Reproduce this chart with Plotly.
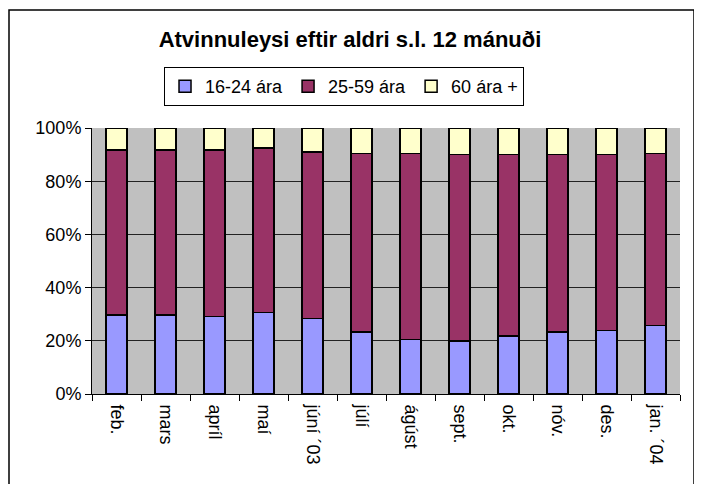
import plotly.graph_objects as go

months = ["feb.", "mars", "apríl", "maí", "júní ´03", "júlí", "ágúst",
          "sept.", "okt.", "nóv.", "des.", "jan. ´04"]
age_16_24 = [29.7, 29.7, 29.1, 30.6, 28.4, 23.3, 20.4, 19.9, 21.8, 23.3, 23.8, 25.8]
age_25_59 = [62.0, 62.0, 62.6, 61.9, 62.6, 67.2, 70.1, 70.1, 68.2, 66.7, 66.2, 64.7]
age_60_plus = [8.3, 8.3, 8.3, 7.5, 9.0, 9.5, 9.5, 10.0, 10.0, 10.0, 10.0, 9.5]
y_ticks = [0, 20, 40, 60, 80, 100]

series = [
    ("16-24 ára", age_16_24, "#9999FF"),
    ("25-59 ára", age_25_59, "#993366"),
    ("60 ára +", age_60_plus, "#FFFFCC"),
]

fig = go.Figure()
for name, vals, color in series:
    fig.add_trace(go.Bar(
        x=months,
        y=vals,
        name=name,
        marker=dict(color=color, line=dict(color="black", width=1.5)),
    ))

font = "Liberation Sans, Arial, sans-serif"

# page body adds an 8px offset, so margins are shifted to compensate
fig.update_layout(
    width=702,
    height=484,
    barmode="stack",
    bargap=0.57,
    paper_bgcolor="white",
    plot_bgcolor="#C0C0C0",
    font=dict(family=font, size=18, color="black"),
    margin=dict(l=84, r=30, t=120, b=98),
    title=dict(
        text="<b>Atvinnuleysi eftir aldri s.l. 12 mánuði</b>",
        x=342 / 702, xanchor="center",
        y=1 - 31 / 484, yanchor="middle",
        font=dict(size=22, family=font),
    ),
    legend=dict(
        orientation="h",
        x=0.4286, xanchor="center",
        y=1.229, yanchor="top",
        bordercolor="black",
        borderwidth=1,
        bgcolor="white",
        font=dict(size=18),
        itemwidth=30,
        traceorder="normal",
    ),
    showlegend=True,
)

fig.update_yaxes(
    range=[0, 100],
    tickvals=y_ticks,
    ticktext=[f"{v}%" for v in y_ticks],
    showgrid=True,
    gridcolor="#222222",
    gridwidth=1,
    zeroline=False,
    showline=True,
    linecolor="black",
    linewidth=1,
    ticks="outside",
    ticklen=6,
    tickcolor="black",
    automargin=False,
)
fig.update_xaxes(
    tickangle=90,
    tickson="boundaries",
    ticks="outside",
    ticklen=6,
    tickcolor="black",
    ticklabelstandoff=6,
    showline=True,
    linecolor="black",
    linewidth=1,
    showgrid=False,
    automargin=False,
)

# outer chart frame (runs off the bottom of the page)
fig.add_shape(type="rect", xref="paper", yref="paper",
              x0=(9 - 92) / 588, x1=(694 - 92) / 588,
              y0=(394 - 495) / 266, y1=(394 - 10) / 266,
              line=dict(color="black", width=1.5), layer="below")

fig.write_html("out.html")
